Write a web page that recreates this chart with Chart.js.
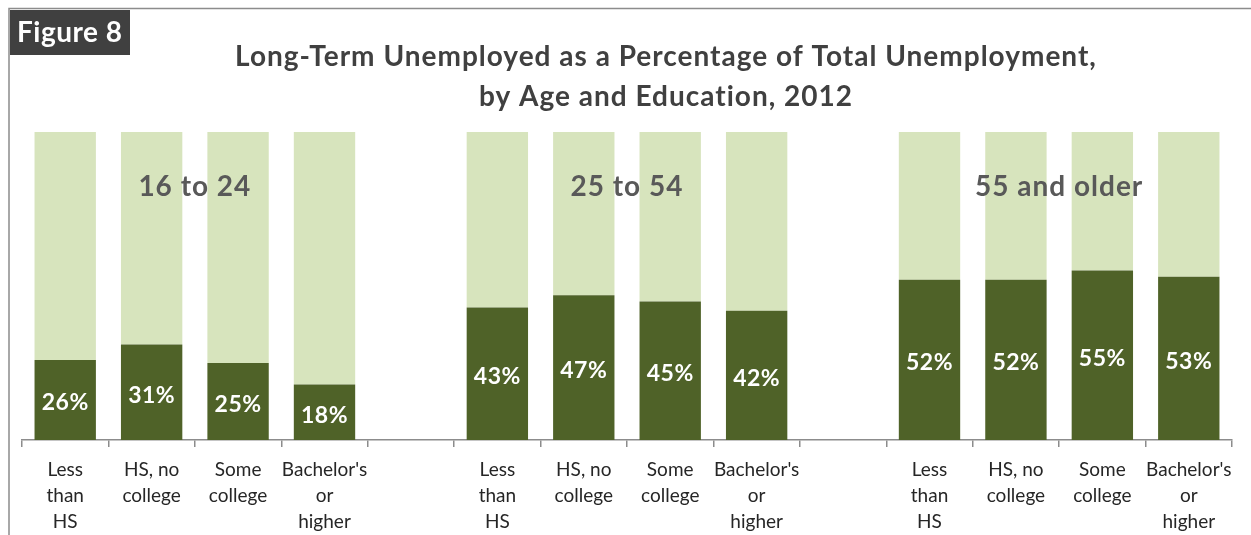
<!DOCTYPE html>
<html><head><meta charset="utf-8">
<script src="https://cdn.jsdelivr.net/npm/chart.js@4.4.1/dist/chart.umd.min.js"></script>
<style>html,body{margin:0;padding:0;background:#fff}#wrap{width:1251px;height:535px;position:relative}</style>
</head><body><div id="wrap"><canvas id="c" width="1251" height="535"></canvas></div>
<script>
const chartTitle = ["Long-Term Unemployed as a Percentage of Total Unemployment,", "by Age and Education, 2012"];
const figureLabel = "Figure 8";
const ageGroups = ["16 to 24", "25 to 54", "55 and older"];
const educationLevels = [["Less","than","HS"], ["HS, no","college"], ["Some","college"], ["Bachelor's","or","higher"]];
// null = spacer slot between age groups
const longTermShare = [26, 31, 25, 18, null, 43, 47, 45, 42, null, 52, 52, 55, 53];
const otherShare    = [74, 69, 75, 82, null, 57, 53, 55, 58, null, 48, 48, 45, 47];
const yTicks = [0, 100];

const labels = [];
ageGroups.forEach((g, i) => {
  educationLevels.forEach(e => labels.push(e));
  if (i < ageGroups.length - 1) labels.push("");
});

const FONT = "Lato, 'Open Sans', sans-serif";

const decor = {
  id: 'decor',
  beforeDraw(chart) {
    const ctx = chart.ctx;
    ctx.save();
    ctx.fillStyle = '#fff';
    ctx.fillRect(0, 0, chart.width, chart.height);
    // frame
    ctx.strokeStyle = '#8c8c8c';
    ctx.lineWidth = 1.5;
    ctx.beginPath();
    ctx.moveTo(9, chart.height);
    ctx.lineTo(9, 8.5);
    ctx.lineTo(chart.width, 8.5);
    ctx.stroke();
    // figure box
    ctx.fillStyle = '#404040';
    ctx.fillRect(10, 10, 120, 45);
    ctx.fillStyle = '#ffffff';
    ctx.font = "bold 28px " + FONT;
    ctx.textBaseline = 'middle';
    ctx.textAlign = 'left';
    ctx.letterSpacing = '0.5px';
    ctx.fillText(figureLabel, 17, 33);
    // title
    ctx.fillStyle = '#404040';
    ctx.font = "bold 28px " + FONT;
    ctx.letterSpacing = '1px';
    ctx.textAlign = 'center';
    ctx.fillText(chartTitle[0], 666, 57);
    ctx.fillText(chartTitle[1], 666, 97);
    ctx.letterSpacing = '0px';
    ctx.restore();
  },
  afterDatasetsDraw(chart) {
    const ctx = chart.ctx;
    const xs = chart.scales.x, ys = chart.scales.y;
    ctx.save();
    // group labels
    ctx.fillStyle = '#595959';
    ctx.font = "bold 28px " + FONT;
    ctx.letterSpacing = '1px';
    ctx.textAlign = 'center';
    ctx.textBaseline = 'middle';
    ageGroups.forEach((g, i) => {
      const start = i * (educationLevels.length + 1);
      const x = (xs.getPixelForValue(start + 1) + xs.getPixelForValue(start + 2)) / 2;
      ctx.fillText(g, x, ys.getPixelForValue(82));
    });
    // value labels
    ctx.fillStyle = '#ffffff';
    ctx.font = "bold 23px " + FONT;
    ctx.letterSpacing = '0.5px';
    const meta = chart.getDatasetMeta(0);
    meta.data.forEach((bar, i) => {
      const v = longTermShare[i];
      if (v == null) return;
      ctx.fillText(v + '%', bar.x, (bar.y + bar.base) / 2 + 3);
    });
    ctx.letterSpacing = '0px';
    ctx.restore();
  }
};

new Chart(document.getElementById('c'), {
  type: 'bar',
  data: {
    labels: labels,
    datasets: [
      { label: 'Long-term', data: longTermShare, backgroundColor: '#4f6228', barPercentage: 0.71, categoryPercentage: 1 },
      { label: 'Other', data: otherShare, backgroundColor: '#d7e4bd', barPercentage: 0.71, categoryPercentage: 1 }
    ]
  },
  options: {
    responsive: false,
    animation: false,
    events: [],
    layout: { padding: { left: 22, right: 19, top: 132, bottom: 0 } },
    plugins: { legend: { display: false }, title: { display: false }, tooltip: { enabled: false } },
    scales: {
      x: {
        stacked: true,
        grid: { display: true, drawOnChartArea: false, tickLength: 7, color: '#8c8c8c', lineWidth: 1.5, offset: true },
        border: { display: true, color: '#8c8c8c', width: 1.5 },
        ticks: { color: '#262626', font: { family: FONT, size: 19, lineHeight: '26px' }, padding: 10, maxRotation: 0, autoSkip: false },
        afterFit(s) { s.height = 95; }
      },
      y: {
        stacked: true, display: false, min: yTicks[0], max: yTicks[1]
      }
    }
  },
  plugins: [decor]
});
</script></body></html>
